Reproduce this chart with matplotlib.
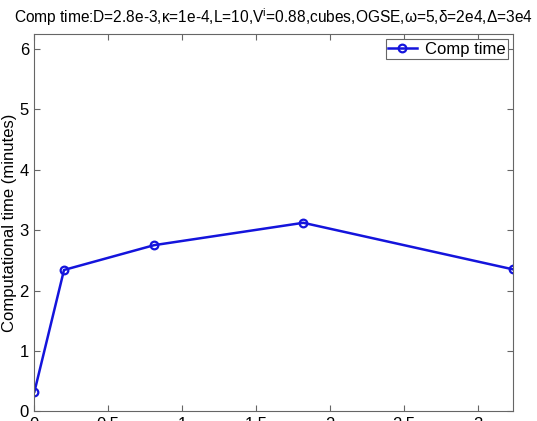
import matplotlib
matplotlib.use('Agg')
import matplotlib.pyplot as plt
from matplotlib.ticker import FuncFormatter

# data
x = [0, 0.20, 0.81, 1.82, 3.24]
comp_time = [0.33, 2.34, 2.75, 3.12, 2.35]
xticks = [0, 0.5, 1, 1.5, 2, 2.5, 3]
yticks = [0, 1, 2, 3, 4, 5, 6]

plt.rcParams['font.family'] = ['Liberation Sans', 'DejaVu Sans']
plt.rcParams['mathtext.fontset'] = 'custom'
plt.rcParams['mathtext.rm'] = 'Liberation Sans'
plt.rcParams['font.size'] = 12

fig = plt.figure(figsize=(5.37, 4.21), dpi=100)
ax = fig.add_axes([0.0642, 0.0226, 0.8911, 0.8964])

ax.plot(x, comp_time, color='#1414dc', lw=1.8, marker='o', ms=5.5,
        mfc='none', mec='#1414dc', mew=1.6, label='Comp time')

ax.set_xlim(0, max(x))
ax.set_ylim(0, 2 * max(comp_time))
ax.set_xticks(xticks)
ax.set_yticks(yticks)
ax.xaxis.set_major_formatter(FuncFormatter(lambda v, p: '%g' % v))
ax.tick_params(direction='in', top=True, right=True, length=4,
               color='#666666', pad=4)
for s in ax.spines.values():
    s.set_color('#666666')
    s.set_linewidth(0.8)

ax.set_ylabel('Computational time (minutes)', fontsize=12)
ax.yaxis.set_label_coords(-0.037, 0.5)
ax.set_title('Comp time:D=2.8e-3,\u03ba=1e-4,L=10,V$^{\\mathrm{i}}$=0.88,cubes,OGSE,'
             '\u03c9=5,\u03b4=2e4,\u0394=3e4', fontsize=11.2, pad=8)

leg = ax.legend(loc='upper right', fancybox=False, framealpha=1,
                borderpad=0.15, handlelength=1.7, handletextpad=0.5,
                borderaxespad=0.3)
leg.get_frame().set_edgecolor('#666666')
leg.get_frame().set_linewidth(0.8)

fig.savefig('out.png', dpi=100)
